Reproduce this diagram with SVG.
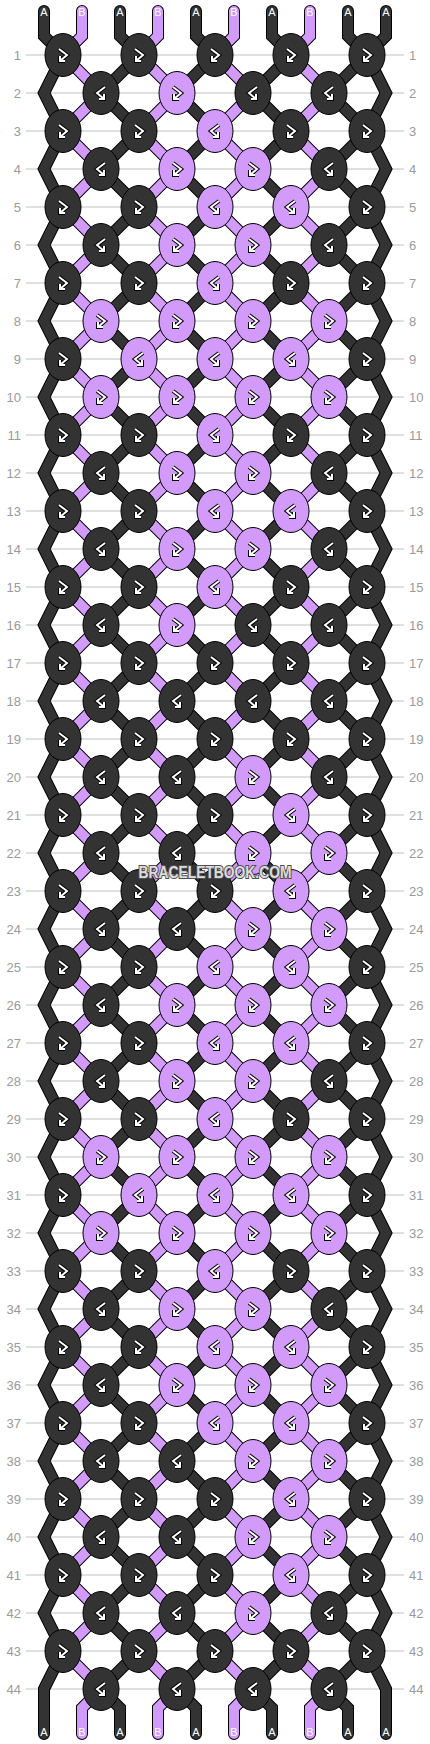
<svg xmlns="http://www.w3.org/2000/svg" xmlns:xlink="http://www.w3.org/1999/xlink" width="430" height="1744" viewBox="0 0 430 1744">
<style>
.grid{fill:none;stroke:#c0c0c0;stroke-width:1}
.so{fill:none;stroke:#000;stroke-width:12;stroke-linecap:round;stroke-linejoin:miter}
.sd{fill:none;stroke:#333;stroke-width:10;stroke-linecap:round;stroke-linejoin:miter}
.sp{fill:none;stroke:#d29bf9;stroke-width:10;stroke-linecap:round;stroke-linejoin:miter}
.kd{fill:#333;stroke:#000;stroke-width:1}
.kp{fill:#d29bf9;stroke:#000;stroke-width:1}
.go{fill:none;stroke:#000;stroke-width:4}
.gw{fill:none;stroke:#fff;stroke-width:2}
.rl{font-family:"Liberation Sans",Arial,sans-serif;font-size:13px;fill:#9a9a9a;text-anchor:end}
.rr{font-family:"Liberation Sans",Arial,sans-serif;font-size:13px;fill:#9a9a9a;text-anchor:start}
.sl{font-family:"Liberation Sans",Arial,sans-serif;font-size:11px;fill:#fff;text-anchor:middle}
.wm{font-family:"Liberation Sans",Arial,sans-serif;font-size:16px;font-weight:bold;fill:#dcdcdc;stroke:#505050;stroke-width:2;paint-order:stroke;text-anchor:middle}
</style>
<defs>
<ellipse id="ko" cx="0" cy="0" rx="18" ry="21.5"/>
<g id="fb"><path class="go" d="M-4,-6L4,0L-3,6M-3,1V6H2"/><path class="gw" d="M-4,-6L4,0L-3,6M-3,1V6H2"/></g>
<g id="bf"><path class="go" d="M4,-6L-4,0L3,6M3,1V6H-2"/><path class="gw" d="M4,-6L-4,0L3,6M3,1V6H-2"/></g>
<g id="Dfb"><use href="#ko" class="kd"/><use href="#fb"/></g>
<g id="Dbf"><use href="#ko" class="kd"/><use href="#bf"/></g>
<g id="Pfb"><use href="#ko" class="kp"/><use href="#fb"/></g>
<g id="Pbf"><use href="#ko" class="kp"/><use href="#bf"/></g>
<path id="s0" d="M44,11V36L63,55l-19,38l19,38l-19,38l19,38l-19,38l19,38l-19,38l19,38l-19,38l19,38l-19,38l19,38l-19,38l19,38l-19,38l19,38l-19,38l19,38l-19,38l19,38l-19,38l19,38l-19,38l19,38l-19,38l19,38l-19,38l19,38l-19,38l19,38l-19,38l19,38l-19,38l19,38l-19,38l19,38l-19,38l19,38l-19,38l19,38l-19,38l19,38l-19,38V1734"/>
<path id="s9" d="M386,11V36L367,55l19,38l-19,38l19,38l-19,38l19,38l-19,38l19,38l-19,38l19,38l-19,38l19,38l-19,38l19,38l-19,38l19,38l-19,38l19,38l-19,38l19,38l-19,38l19,38l-19,38l19,38l-19,38l19,38l-19,38l19,38l-19,38l19,38l-19,38l19,38l-19,38l19,38l-19,38l19,38l-19,38l19,38l-19,38l19,38l-19,38l19,38l-19,38l19,38V1734"/>
<path id="s1" d="M82,11V36L63,55l38,38l-38,38l38,38l-38,38l38,38l-38,38l38,38l-38,38l38,38l-38,38l38,38l-38,38l38,38l-38,38l38,38l-38,38l38,38l-38,38l38,38l-38,38l38,38l-38,38l38,38l-38,38l38,38l-38,38l38,38l-38,38l38,38l-38,38l38,38l-38,38l38,38l-38,38l38,38l-38,38l38,38l-38,38l38,38l-38,38l38,38l-38,38l38,38L82,1708V1734"/>
<path id="s2" d="M120,11V36L139,55l-38,38l38,38l-38,38l38,38l-38,38l38,38l-38,38l38,38l-38,38l38,38l-38,38l38,38l-38,38l38,38l-38,38l38,38l-38,38l38,38l-38,38l38,38l-38,38l38,38l-38,38l38,38l-38,38l38,38l-38,38l38,38l-38,38l38,38l-38,38l38,38l-38,38l38,38l-38,38l38,38l-38,38l38,38l-38,38l38,38l-38,38l38,38l-38,38L120,1708V1734"/>
</defs>
<rect width="430" height="1744" fill="#fff"/>
<path class="grid" d="M26,55h378M26,93h378M26,131h378M26,169h378M26,207h378M26,245h378M26,283h378M26,321h378M26,359h378M26,397h378M26,435h378M26,473h378M26,511h378M26,549h378M26,587h378M26,625h378M26,663h378M26,701h378M26,739h378M26,777h378M26,815h378M26,853h378M26,891h378M26,929h378M26,967h378M26,1005h378M26,1043h378M26,1081h378M26,1119h378M26,1157h378M26,1195h378M26,1233h378M26,1271h378M26,1309h378M26,1347h378M26,1385h378M26,1423h378M26,1461h378M26,1499h378M26,1537h378M26,1575h378M26,1613h378M26,1651h378M26,1689h378"/>
<g id="rowlabels">
<text class="rl" x="21" y="59.5">1</text><text class="rr" x="409" y="59.5">1</text>
<text class="rl" x="21" y="97.5">2</text><text class="rr" x="409" y="97.5">2</text>
<text class="rl" x="21" y="135.5">3</text><text class="rr" x="409" y="135.5">3</text>
<text class="rl" x="21" y="173.5">4</text><text class="rr" x="409" y="173.5">4</text>
<text class="rl" x="21" y="211.5">5</text><text class="rr" x="409" y="211.5">5</text>
<text class="rl" x="21" y="249.5">6</text><text class="rr" x="409" y="249.5">6</text>
<text class="rl" x="21" y="287.5">7</text><text class="rr" x="409" y="287.5">7</text>
<text class="rl" x="21" y="325.5">8</text><text class="rr" x="409" y="325.5">8</text>
<text class="rl" x="21" y="363.5">9</text><text class="rr" x="409" y="363.5">9</text>
<text class="rl" x="21" y="401.5">10</text><text class="rr" x="409" y="401.5">10</text>
<text class="rl" x="21" y="439.5">11</text><text class="rr" x="409" y="439.5">11</text>
<text class="rl" x="21" y="477.5">12</text><text class="rr" x="409" y="477.5">12</text>
<text class="rl" x="21" y="515.5">13</text><text class="rr" x="409" y="515.5">13</text>
<text class="rl" x="21" y="553.5">14</text><text class="rr" x="409" y="553.5">14</text>
<text class="rl" x="21" y="591.5">15</text><text class="rr" x="409" y="591.5">15</text>
<text class="rl" x="21" y="629.5">16</text><text class="rr" x="409" y="629.5">16</text>
<text class="rl" x="21" y="667.5">17</text><text class="rr" x="409" y="667.5">17</text>
<text class="rl" x="21" y="705.5">18</text><text class="rr" x="409" y="705.5">18</text>
<text class="rl" x="21" y="743.5">19</text><text class="rr" x="409" y="743.5">19</text>
<text class="rl" x="21" y="781.5">20</text><text class="rr" x="409" y="781.5">20</text>
<text class="rl" x="21" y="819.5">21</text><text class="rr" x="409" y="819.5">21</text>
<text class="rl" x="21" y="857.5">22</text><text class="rr" x="409" y="857.5">22</text>
<text class="rl" x="21" y="895.5">23</text><text class="rr" x="409" y="895.5">23</text>
<text class="rl" x="21" y="933.5">24</text><text class="rr" x="409" y="933.5">24</text>
<text class="rl" x="21" y="971.5">25</text><text class="rr" x="409" y="971.5">25</text>
<text class="rl" x="21" y="1009.5">26</text><text class="rr" x="409" y="1009.5">26</text>
<text class="rl" x="21" y="1047.5">27</text><text class="rr" x="409" y="1047.5">27</text>
<text class="rl" x="21" y="1085.5">28</text><text class="rr" x="409" y="1085.5">28</text>
<text class="rl" x="21" y="1123.5">29</text><text class="rr" x="409" y="1123.5">29</text>
<text class="rl" x="21" y="1161.5">30</text><text class="rr" x="409" y="1161.5">30</text>
<text class="rl" x="21" y="1199.5">31</text><text class="rr" x="409" y="1199.5">31</text>
<text class="rl" x="21" y="1237.5">32</text><text class="rr" x="409" y="1237.5">32</text>
<text class="rl" x="21" y="1275.5">33</text><text class="rr" x="409" y="1275.5">33</text>
<text class="rl" x="21" y="1313.5">34</text><text class="rr" x="409" y="1313.5">34</text>
<text class="rl" x="21" y="1351.5">35</text><text class="rr" x="409" y="1351.5">35</text>
<text class="rl" x="21" y="1389.5">36</text><text class="rr" x="409" y="1389.5">36</text>
<text class="rl" x="21" y="1427.5">37</text><text class="rr" x="409" y="1427.5">37</text>
<text class="rl" x="21" y="1465.5">38</text><text class="rr" x="409" y="1465.5">38</text>
<text class="rl" x="21" y="1503.5">39</text><text class="rr" x="409" y="1503.5">39</text>
<text class="rl" x="21" y="1541.5">40</text><text class="rr" x="409" y="1541.5">40</text>
<text class="rl" x="21" y="1579.5">41</text><text class="rr" x="409" y="1579.5">41</text>
<text class="rl" x="21" y="1617.5">42</text><text class="rr" x="409" y="1617.5">42</text>
<text class="rl" x="21" y="1655.5">43</text><text class="rr" x="409" y="1655.5">43</text>
<text class="rl" x="21" y="1693.5">44</text><text class="rr" x="409" y="1693.5">44</text>
</g>
<g id="connectors">
<g class="so"><use href="#s0"/><use href="#s9"/><use href="#s1"/><use href="#s1" x="76"/><use href="#s1" x="152"/><use href="#s1" x="228"/><use href="#s2"/><use href="#s2" x="76"/><use href="#s2" x="152"/><use href="#s2" x="228"/></g>
<g class="sd"><use href="#s0"/><use href="#s9"/><use href="#s2"/><use href="#s2" x="76"/><use href="#s2" x="152"/><use href="#s2" x="228"/></g>
<g class="sp"><use href="#s1"/><use href="#s1" x="76"/><use href="#s1" x="152"/><use href="#s1" x="228"/></g>
</g>
<g id="stringlabels">
<text class="sl" x="44" y="16">A</text><text class="sl" x="82" y="16">B</text><text class="sl" x="120" y="16">A</text><text class="sl" x="158" y="16">B</text><text class="sl" x="196" y="16">A</text><text class="sl" x="234" y="16">B</text><text class="sl" x="272" y="16">A</text><text class="sl" x="310" y="16">B</text><text class="sl" x="348" y="16">A</text><text class="sl" x="386" y="16">A</text>
<text class="sl" x="44" y="1736">A</text><text class="sl" x="82" y="1736">B</text><text class="sl" x="120" y="1736">A</text><text class="sl" x="158" y="1736">B</text><text class="sl" x="196" y="1736">A</text><text class="sl" x="234" y="1736">B</text><text class="sl" x="272" y="1736">A</text><text class="sl" x="310" y="1736">B</text><text class="sl" x="348" y="1736">A</text><text class="sl" x="386" y="1736">A</text>
</g>
<g id="knots">
<g id="k01-1"><use href="#Dfb" x="63" y="55"/></g><g id="k01-2"><use href="#Dfb" x="139" y="55"/></g><g id="k01-3"><use href="#Dfb" x="215" y="55"/></g><g id="k01-4"><use href="#Dfb" x="291" y="55"/></g><g id="k01-5"><use href="#Dfb" x="367" y="55"/></g>
<g id="k02-1"><use href="#Dbf" x="101" y="93"/></g><g id="k02-2"><use href="#Pfb" x="177" y="93"/></g><g id="k02-3"><use href="#Dbf" x="253" y="93"/></g><g id="k02-4"><use href="#Dbf" x="329" y="93"/></g>
<g id="k03-1"><use href="#Dfb" x="63" y="131"/></g><g id="k03-2"><use href="#Dfb" x="139" y="131"/></g><g id="k03-3"><use href="#Pbf" x="215" y="131"/></g><g id="k03-4"><use href="#Dfb" x="291" y="131"/></g><g id="k03-5"><use href="#Dfb" x="367" y="131"/></g>
<g id="k04-1"><use href="#Dbf" x="101" y="169"/></g><g id="k04-2"><use href="#Pfb" x="177" y="169"/></g><g id="k04-3"><use href="#Pfb" x="253" y="169"/></g><g id="k04-4"><use href="#Dbf" x="329" y="169"/></g>
<g id="k05-1"><use href="#Dfb" x="63" y="207"/></g><g id="k05-2"><use href="#Dfb" x="139" y="207"/></g><g id="k05-3"><use href="#Pbf" x="215" y="207"/></g><g id="k05-4"><use href="#Pbf" x="291" y="207"/></g><g id="k05-5"><use href="#Dfb" x="367" y="207"/></g>
<g id="k06-1"><use href="#Dbf" x="101" y="245"/></g><g id="k06-2"><use href="#Pfb" x="177" y="245"/></g><g id="k06-3"><use href="#Pfb" x="253" y="245"/></g><g id="k06-4"><use href="#Dbf" x="329" y="245"/></g>
<g id="k07-1"><use href="#Dfb" x="63" y="283"/></g><g id="k07-2"><use href="#Dfb" x="139" y="283"/></g><g id="k07-3"><use href="#Pbf" x="215" y="283"/></g><g id="k07-4"><use href="#Dfb" x="291" y="283"/></g><g id="k07-5"><use href="#Dfb" x="367" y="283"/></g>
<g id="k08-1"><use href="#Pfb" x="101" y="321"/></g><g id="k08-2"><use href="#Pfb" x="177" y="321"/></g><g id="k08-3"><use href="#Pfb" x="253" y="321"/></g><g id="k08-4"><use href="#Pfb" x="329" y="321"/></g>
<g id="k09-1"><use href="#Dfb" x="63" y="359"/></g><g id="k09-2"><use href="#Pbf" x="139" y="359"/></g><g id="k09-3"><use href="#Pbf" x="215" y="359"/></g><g id="k09-4"><use href="#Pbf" x="291" y="359"/></g><g id="k09-5"><use href="#Dfb" x="367" y="359"/></g>
<g id="k10-1"><use href="#Pfb" x="101" y="397"/></g><g id="k10-2"><use href="#Pfb" x="177" y="397"/></g><g id="k10-3"><use href="#Pfb" x="253" y="397"/></g><g id="k10-4"><use href="#Pfb" x="329" y="397"/></g>
<g id="k11-1"><use href="#Dfb" x="63" y="435"/></g><g id="k11-2"><use href="#Dfb" x="139" y="435"/></g><g id="k11-3"><use href="#Pbf" x="215" y="435"/></g><g id="k11-4"><use href="#Dfb" x="291" y="435"/></g><g id="k11-5"><use href="#Dfb" x="367" y="435"/></g>
<g id="k12-1"><use href="#Dbf" x="101" y="473"/></g><g id="k12-2"><use href="#Pfb" x="177" y="473"/></g><g id="k12-3"><use href="#Pfb" x="253" y="473"/></g><g id="k12-4"><use href="#Dbf" x="329" y="473"/></g>
<g id="k13-1"><use href="#Dfb" x="63" y="511"/></g><g id="k13-2"><use href="#Dfb" x="139" y="511"/></g><g id="k13-3"><use href="#Pbf" x="215" y="511"/></g><g id="k13-4"><use href="#Pbf" x="291" y="511"/></g><g id="k13-5"><use href="#Dfb" x="367" y="511"/></g>
<g id="k14-1"><use href="#Dbf" x="101" y="549"/></g><g id="k14-2"><use href="#Pfb" x="177" y="549"/></g><g id="k14-3"><use href="#Pfb" x="253" y="549"/></g><g id="k14-4"><use href="#Dbf" x="329" y="549"/></g>
<g id="k15-1"><use href="#Dfb" x="63" y="587"/></g><g id="k15-2"><use href="#Dfb" x="139" y="587"/></g><g id="k15-3"><use href="#Pbf" x="215" y="587"/></g><g id="k15-4"><use href="#Dfb" x="291" y="587"/></g><g id="k15-5"><use href="#Dfb" x="367" y="587"/></g>
<g id="k16-1"><use href="#Dbf" x="101" y="625"/></g><g id="k16-2"><use href="#Pfb" x="177" y="625"/></g><g id="k16-3"><use href="#Dbf" x="253" y="625"/></g><g id="k16-4"><use href="#Dbf" x="329" y="625"/></g>
<g id="k17-1"><use href="#Dfb" x="63" y="663"/></g><g id="k17-2"><use href="#Dfb" x="139" y="663"/></g><g id="k17-3"><use href="#Dfb" x="215" y="663"/></g><g id="k17-4"><use href="#Dfb" x="291" y="663"/></g><g id="k17-5"><use href="#Dfb" x="367" y="663"/></g>
<g id="k18-1"><use href="#Dbf" x="101" y="701"/></g><g id="k18-2"><use href="#Dbf" x="177" y="701"/></g><g id="k18-3"><use href="#Dbf" x="253" y="701"/></g><g id="k18-4"><use href="#Dbf" x="329" y="701"/></g>
<g id="k19-1"><use href="#Dfb" x="63" y="739"/></g><g id="k19-2"><use href="#Dfb" x="139" y="739"/></g><g id="k19-3"><use href="#Dfb" x="215" y="739"/></g><g id="k19-4"><use href="#Dfb" x="291" y="739"/></g><g id="k19-5"><use href="#Dfb" x="367" y="739"/></g>
<g id="k20-1"><use href="#Dbf" x="101" y="777"/></g><g id="k20-2"><use href="#Dbf" x="177" y="777"/></g><g id="k20-3"><use href="#Pfb" x="253" y="777"/></g><g id="k20-4"><use href="#Dbf" x="329" y="777"/></g>
<g id="k21-1"><use href="#Dfb" x="63" y="815"/></g><g id="k21-2"><use href="#Dfb" x="139" y="815"/></g><g id="k21-3"><use href="#Dfb" x="215" y="815"/></g><g id="k21-4"><use href="#Pbf" x="291" y="815"/></g><g id="k21-5"><use href="#Dfb" x="367" y="815"/></g>
<g id="k22-1"><use href="#Dbf" x="101" y="853"/></g><g id="k22-2"><use href="#Dbf" x="177" y="853"/></g><g id="k22-3"><use href="#Pfb" x="253" y="853"/></g><g id="k22-4"><use href="#Pfb" x="329" y="853"/></g>
<g id="k23-1"><use href="#Dfb" x="63" y="891"/></g><g id="k23-2"><use href="#Dfb" x="139" y="891"/></g><g id="k23-3"><use href="#Dfb" x="215" y="891"/></g><g id="k23-4"><use href="#Pbf" x="291" y="891"/></g><g id="k23-5"><use href="#Dfb" x="367" y="891"/></g>
<g id="k24-1"><use href="#Dbf" x="101" y="929"/></g><g id="k24-2"><use href="#Dbf" x="177" y="929"/></g><g id="k24-3"><use href="#Pfb" x="253" y="929"/></g><g id="k24-4"><use href="#Pfb" x="329" y="929"/></g>
<g id="k25-1"><use href="#Dfb" x="63" y="967"/></g><g id="k25-2"><use href="#Dfb" x="139" y="967"/></g><g id="k25-3"><use href="#Pbf" x="215" y="967"/></g><g id="k25-4"><use href="#Pbf" x="291" y="967"/></g><g id="k25-5"><use href="#Dfb" x="367" y="967"/></g>
<g id="k26-1"><use href="#Dbf" x="101" y="1005"/></g><g id="k26-2"><use href="#Pfb" x="177" y="1005"/></g><g id="k26-3"><use href="#Pfb" x="253" y="1005"/></g><g id="k26-4"><use href="#Pfb" x="329" y="1005"/></g>
<g id="k27-1"><use href="#Dfb" x="63" y="1043"/></g><g id="k27-2"><use href="#Dfb" x="139" y="1043"/></g><g id="k27-3"><use href="#Pbf" x="215" y="1043"/></g><g id="k27-4"><use href="#Pbf" x="291" y="1043"/></g><g id="k27-5"><use href="#Dfb" x="367" y="1043"/></g>
<g id="k28-1"><use href="#Dbf" x="101" y="1081"/></g><g id="k28-2"><use href="#Pfb" x="177" y="1081"/></g><g id="k28-3"><use href="#Pfb" x="253" y="1081"/></g><g id="k28-4"><use href="#Dbf" x="329" y="1081"/></g>
<g id="k29-1"><use href="#Dfb" x="63" y="1119"/></g><g id="k29-2"><use href="#Dfb" x="139" y="1119"/></g><g id="k29-3"><use href="#Pbf" x="215" y="1119"/></g><g id="k29-4"><use href="#Dfb" x="291" y="1119"/></g><g id="k29-5"><use href="#Dfb" x="367" y="1119"/></g>
<g id="k30-1"><use href="#Pfb" x="101" y="1157"/></g><g id="k30-2"><use href="#Pfb" x="177" y="1157"/></g><g id="k30-3"><use href="#Pfb" x="253" y="1157"/></g><g id="k30-4"><use href="#Pfb" x="329" y="1157"/></g>
<g id="k31-1"><use href="#Dfb" x="63" y="1195"/></g><g id="k31-2"><use href="#Pbf" x="139" y="1195"/></g><g id="k31-3"><use href="#Pbf" x="215" y="1195"/></g><g id="k31-4"><use href="#Pbf" x="291" y="1195"/></g><g id="k31-5"><use href="#Dfb" x="367" y="1195"/></g>
<g id="k32-1"><use href="#Pfb" x="101" y="1233"/></g><g id="k32-2"><use href="#Pfb" x="177" y="1233"/></g><g id="k32-3"><use href="#Pfb" x="253" y="1233"/></g><g id="k32-4"><use href="#Pfb" x="329" y="1233"/></g>
<g id="k33-1"><use href="#Dfb" x="63" y="1271"/></g><g id="k33-2"><use href="#Dfb" x="139" y="1271"/></g><g id="k33-3"><use href="#Pbf" x="215" y="1271"/></g><g id="k33-4"><use href="#Dfb" x="291" y="1271"/></g><g id="k33-5"><use href="#Dfb" x="367" y="1271"/></g>
<g id="k34-1"><use href="#Dbf" x="101" y="1309"/></g><g id="k34-2"><use href="#Pfb" x="177" y="1309"/></g><g id="k34-3"><use href="#Pfb" x="253" y="1309"/></g><g id="k34-4"><use href="#Dbf" x="329" y="1309"/></g>
<g id="k35-1"><use href="#Dfb" x="63" y="1347"/></g><g id="k35-2"><use href="#Dfb" x="139" y="1347"/></g><g id="k35-3"><use href="#Pbf" x="215" y="1347"/></g><g id="k35-4"><use href="#Pbf" x="291" y="1347"/></g><g id="k35-5"><use href="#Dfb" x="367" y="1347"/></g>
<g id="k36-1"><use href="#Dbf" x="101" y="1385"/></g><g id="k36-2"><use href="#Pfb" x="177" y="1385"/></g><g id="k36-3"><use href="#Pfb" x="253" y="1385"/></g><g id="k36-4"><use href="#Pfb" x="329" y="1385"/></g>
<g id="k37-1"><use href="#Dfb" x="63" y="1423"/></g><g id="k37-2"><use href="#Dfb" x="139" y="1423"/></g><g id="k37-3"><use href="#Pbf" x="215" y="1423"/></g><g id="k37-4"><use href="#Pbf" x="291" y="1423"/></g><g id="k37-5"><use href="#Dfb" x="367" y="1423"/></g>
<g id="k38-1"><use href="#Dbf" x="101" y="1461"/></g><g id="k38-2"><use href="#Dbf" x="177" y="1461"/></g><g id="k38-3"><use href="#Pfb" x="253" y="1461"/></g><g id="k38-4"><use href="#Pfb" x="329" y="1461"/></g>
<g id="k39-1"><use href="#Dfb" x="63" y="1499"/></g><g id="k39-2"><use href="#Dfb" x="139" y="1499"/></g><g id="k39-3"><use href="#Dfb" x="215" y="1499"/></g><g id="k39-4"><use href="#Pbf" x="291" y="1499"/></g><g id="k39-5"><use href="#Dfb" x="367" y="1499"/></g>
<g id="k40-1"><use href="#Dbf" x="101" y="1537"/></g><g id="k40-2"><use href="#Dbf" x="177" y="1537"/></g><g id="k40-3"><use href="#Pfb" x="253" y="1537"/></g><g id="k40-4"><use href="#Pfb" x="329" y="1537"/></g>
<g id="k41-1"><use href="#Dfb" x="63" y="1575"/></g><g id="k41-2"><use href="#Dfb" x="139" y="1575"/></g><g id="k41-3"><use href="#Dfb" x="215" y="1575"/></g><g id="k41-4"><use href="#Pbf" x="291" y="1575"/></g><g id="k41-5"><use href="#Dfb" x="367" y="1575"/></g>
<g id="k42-1"><use href="#Dbf" x="101" y="1613"/></g><g id="k42-2"><use href="#Dbf" x="177" y="1613"/></g><g id="k42-3"><use href="#Pfb" x="253" y="1613"/></g><g id="k42-4"><use href="#Dbf" x="329" y="1613"/></g>
<g id="k43-1"><use href="#Dfb" x="63" y="1651"/></g><g id="k43-2"><use href="#Dfb" x="139" y="1651"/></g><g id="k43-3"><use href="#Dfb" x="215" y="1651"/></g><g id="k43-4"><use href="#Dfb" x="291" y="1651"/></g><g id="k43-5"><use href="#Dfb" x="367" y="1651"/></g>
<g id="k44-1"><use href="#Dbf" x="101" y="1689"/></g><g id="k44-2"><use href="#Dbf" x="177" y="1689"/></g><g id="k44-3"><use href="#Dbf" x="253" y="1689"/></g><g id="k44-4"><use href="#Dbf" x="329" y="1689"/></g>
</g>
<text class="wm" x="215" y="877.5" textLength="153" lengthAdjust="spacingAndGlyphs">BRACELETBOOK.COM</text>
</svg>
